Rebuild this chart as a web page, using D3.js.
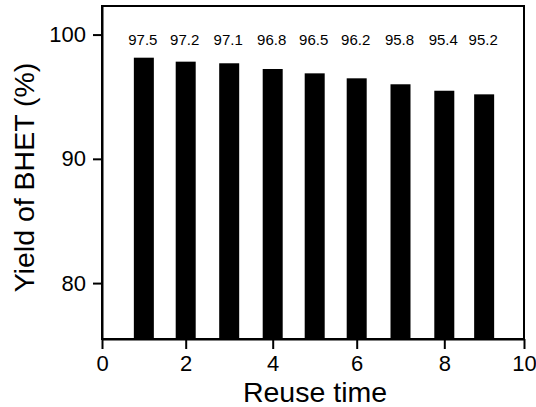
<!DOCTYPE html>
<html>
<head>
<meta charset="utf-8">
<script src="https://cdn.jsdelivr.net/npm/d3@7"></script>
<style>
  body { margin: 0; background: #fff; }
  text { font-family: "Liberation Sans", Arial, sans-serif; fill: #000; }
</style>
</head>
<body>
<svg class="chart"></svg>
<script>
const reuseTimes = [1, 2, 3, 4, 5, 6, 7, 8, 9];
const barYields = [98.14, 97.82, 97.69, 97.23, 96.88, 96.48, 96.0, 95.48, 95.19];
const yieldLabels = ["97.5", "97.2", "97.1", "96.8", "96.5", "96.2", "95.8", "95.4", "95.2"];
const xTicks = [0, 2, 4, 6, 8, 10];
const yTicks = [80, 90, 100];

const canvas = {width: 536, height: 407};
const plot = {left: 102, right: 524, top: 6, bottom: 339};

// the original axis is slightly uneven, so the scale gets one stop per tick
const x = d3.scaleLinear()
    .domain(xTicks)
    .range([102, 185.7, 272.7, 356.7, 444.3, 524]);

const y = d3.scaleLinear()
    .domain([75.5, 102.3])
    .range([plot.bottom, plot.top]);

const barWidth = 20;

const svg = d3.select(".chart")
    .attr("width", canvas.width)
    .attr("height", canvas.height);

// bars
svg.append("g")
    .selectAll("rect")
    .data(reuseTimes)
    .enter()
    .append("rect")
    .attr("x", (d) => x(d) - barWidth / 2)
    .attr("y", (d, i) => y(barYields[i]))
    .attr("width", barWidth)
    .attr("height", (d, i) => plot.bottom - y(barYields[i]))
    .attr("fill", "#000");

// value labels
svg.append("g")
    .selectAll("text")
    .data(reuseTimes)
    .enter()
    .append("text")
    .attr("x", (d) => x(d) - 1)
    .attr("y", 44.5)
    .attr("text-anchor", "middle")
    .style("font-size", "15px")
    .text((d, i) => yieldLabels[i]);

// frame
svg.append("rect")
    .attr("x", plot.left)
    .attr("y", plot.top)
    .attr("width", plot.right - plot.left)
    .attr("height", plot.bottom - plot.top)
    .attr("fill", "none")
    .attr("stroke", "#000")
    .attr("stroke-width", 2);

const xAxis = d3.axisBottom(x).tickValues(xTicks).tickSize(10).tickPadding(6).tickSizeOuter(0);
const gx = svg.append("g")
    .attr("transform", "translate(0," + plot.bottom + ")")
    .call(xAxis);

const yAxis = d3.axisLeft(y).tickValues(yTicks).tickSize(9).tickPadding(7).tickSizeOuter(0);
const gy = svg.append("g")
    .attr("transform", "translate(" + plot.left + ",0)")
    .call(yAxis);

[gx, gy].forEach(function (g) {
    g.select(".domain").attr("stroke", "#000").attr("stroke-width", 2);
    g.selectAll(".tick line").attr("stroke", "#000").attr("stroke-width", 2);
    g.selectAll(".tick text")
        .style("font-family", "'Liberation Sans', Arial, sans-serif")
        .style("font-size", "22px")
        .attr("fill", "#000");
});

// axis titles
svg.append("text")
    .attr("x", (plot.left + plot.right) / 2 + 2)
    .attr("y", 402)
    .attr("text-anchor", "middle")
    .style("font-size", "28.5px")
    .text("Reuse time");

svg.append("text")
    .attr("transform", "translate(33.5," + 177.5 + ") rotate(-90)")
    .attr("text-anchor", "middle")
    .style("font-size", "28.5px")
    .text("Yield of BHET (%)");
</script>
</body>
</html>
